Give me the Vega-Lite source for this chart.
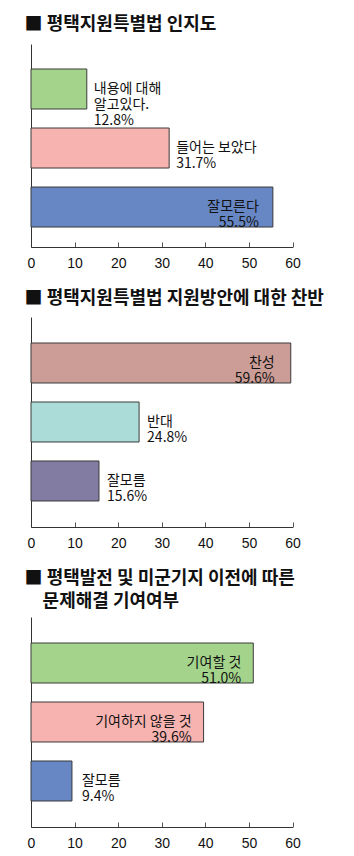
{
  "$schema": "https://vega.github.io/schema/vega-lite/v6.json",
  "background": "white",
  "padding": {"left": 24, "top": 16, "right": 5, "bottom": 3},
  "datasets": {
    "survey": [
      {"panel": 1, "name": "내용에 대해\n알고있다.", "value": 12.8},
      {"panel": 1, "name": "들어는 보았다", "value": 31.7},
      {"panel": 1, "name": "잘모른다", "value": 55.5},
      {"panel": 2, "name": "찬성", "value": 59.6},
      {"panel": 2, "name": "반대", "value": 24.8},
      {"panel": 2, "name": "잘모름", "value": 15.6},
      {"panel": 3, "name": "기여할 것", "value": 51.0},
      {"panel": 3, "name": "기여하지 않을 것", "value": 39.6},
      {"panel": 3, "name": "잘모름", "value": 9.4}
    ]
  },
  "config": {
    "view": {"stroke": null},
    "font": "Noto Sans CJK KR",
    "title": {"font": "Noto Sans CJK KR", "fontSize": 18, "fontWeight": "bold", "anchor": "start", "color": "#111", "dx": -2.5, "lineHeight": 23},
    "axisX": {"values": [0, 10, 20, 30, 40, 50, 60], "tickSize": -5, "labelPadding": 14, "grid": false, "title": null, "domainColor": "#333", "tickColor": "#555", "labelFont": "Liberation Sans", "labelFontSize": 14, "labelColor": "#111", "labelFlush": false},
    "axisY": {"labels": false, "ticks": false, "title": null, "grid": false, "domainColor": "#333"},
    "bar": {"stroke": "#3a3a3a", "strokeWidth": 1}
  },
  "spacing": 20,
  "resolve": {"scale": {"x": "independent", "y": "independent", "color": "independent"}},
  "vconcat": [
    {
      "width": 261.5, "height": 203,
      "title": {"text": "■ 평택지원특별법 인지도", "offset": 10},
      "data": {"name": "survey"},
      "transform": [{"filter": "datum.panel == 1"}, {"calculate": "datum.name + '\\n' + format(datum.value, '.1f') + '%'", "as": "label"}],
      "encoding": {
        "y": {"field": "name", "type": "nominal", "sort": null, "scale": {"paddingInner": 0.322, "paddingOuter": 0.381, "align": 0.556}},
        "x": {"field": "value", "type": "quantitative", "scale": {"domain": [0, 60], "nice": false}}
      },
      "layer": [
        {"mark": {"type": "bar"}, "encoding": {"color": {"field": "name", "type": "nominal", "legend": null, "scale": {"domain": ["내용에 대해\n알고있다.", "들어는 보았다", "잘모른다"], "range": ["#a4d48c", "#f6b3b0", "#6686c4"]}}}},
        {"transform": [{"filter": "datum.value < 35"}], "mark": {"type": "text", "align": "left", "dx": 7, "baseline": "middle", "lineBreak": "\n", "lineHeight": 16, "fontSize": 14, "font": "Noto Sans CJK KR", "color": "#111"}, "encoding": {"text": {"field": "label"}}},
        {"transform": [{"filter": "datum.value >= 35"}], "mark": {"type": "text", "align": "right", "dx": -14, "baseline": "middle", "lineBreak": "\n", "lineHeight": 16, "fontSize": 14, "font": "Noto Sans CJK KR", "color": "#111"}, "encoding": {"text": {"field": "label"}}}
      ]
    },
    {
      "width": 261.5, "height": 210,
      "title": {"text": "■ 평택지원특별법 지원방안에 대한 찬반", "offset": 9},
      "data": {"name": "survey"},
      "transform": [{"filter": "datum.panel == 2"}, {"calculate": "datum.name + '\\n' + format(datum.value, '.1f') + '%'", "as": "label"}],
      "encoding": {
        "y": {"field": "name", "type": "nominal", "sort": null, "scale": {"paddingInner": 0.322, "paddingOuter": 0.441, "align": 0.5}},
        "x": {"field": "value", "type": "quantitative", "scale": {"domain": [0, 60], "nice": false}}
      },
      "layer": [
        {"mark": {"type": "bar"}, "encoding": {"color": {"field": "name", "type": "nominal", "legend": null, "scale": {"domain": ["찬성", "반대", "잘모름"], "range": ["#cc9d96", "#acdcd8", "#837ca2"]}}}},
        {"transform": [{"filter": "datum.value < 35"}], "mark": {"type": "text", "align": "left", "dx": 8, "baseline": "middle", "lineBreak": "\n", "lineHeight": 16, "fontSize": 14, "font": "Noto Sans CJK KR", "color": "#111"}, "encoding": {"text": {"field": "label"}}},
        {"transform": [{"filter": "datum.value >= 35"}], "mark": {"type": "text", "align": "right", "dx": -16, "baseline": "middle", "lineBreak": "\n", "lineHeight": 16, "fontSize": 14, "font": "Noto Sans CJK KR", "color": "#111"}, "encoding": {"text": {"field": "label"}}}
      ]
    },
    {
      "width": 261.5, "height": 210,
      "title": {"text": ["■ 평택발전 및 미군기지 이전에 따른", "\u200b\u3000문제해결 기여여부"], "offset": 6},
      "data": {"name": "survey"},
      "transform": [{"filter": "datum.panel == 3"}, {"calculate": "datum.name + '\\n' + format(datum.value, '.1f') + '%'", "as": "label"}],
      "encoding": {
        "y": {"field": "name", "type": "nominal", "sort": null, "scale": {"paddingInner": 0.322, "paddingOuter": 0.441, "align": 0.5}},
        "x": {"field": "value", "type": "quantitative", "scale": {"domain": [0, 60], "nice": false}}
      },
      "layer": [
        {"mark": {"type": "bar"}, "encoding": {"color": {"field": "name", "type": "nominal", "legend": null, "scale": {"domain": ["기여할 것", "기여하지 않을 것", "잘모름"], "range": ["#a4d48c", "#f6b3b0", "#6686c4"]}}}},
        {"transform": [{"filter": "datum.value < 35"}], "mark": {"type": "text", "align": "left", "dx": 10, "baseline": "middle", "lineBreak": "\n", "lineHeight": 16, "fontSize": 14, "font": "Noto Sans CJK KR", "color": "#111"}, "encoding": {"text": {"field": "label"}}},
        {"transform": [{"filter": "datum.value >= 35"}], "mark": {"type": "text", "align": "right", "dx": -12, "baseline": "middle", "lineBreak": "\n", "lineHeight": 16, "fontSize": 14, "font": "Noto Sans CJK KR", "color": "#111"}, "encoding": {"text": {"field": "label"}}}
      ]
    }
  ]
}
